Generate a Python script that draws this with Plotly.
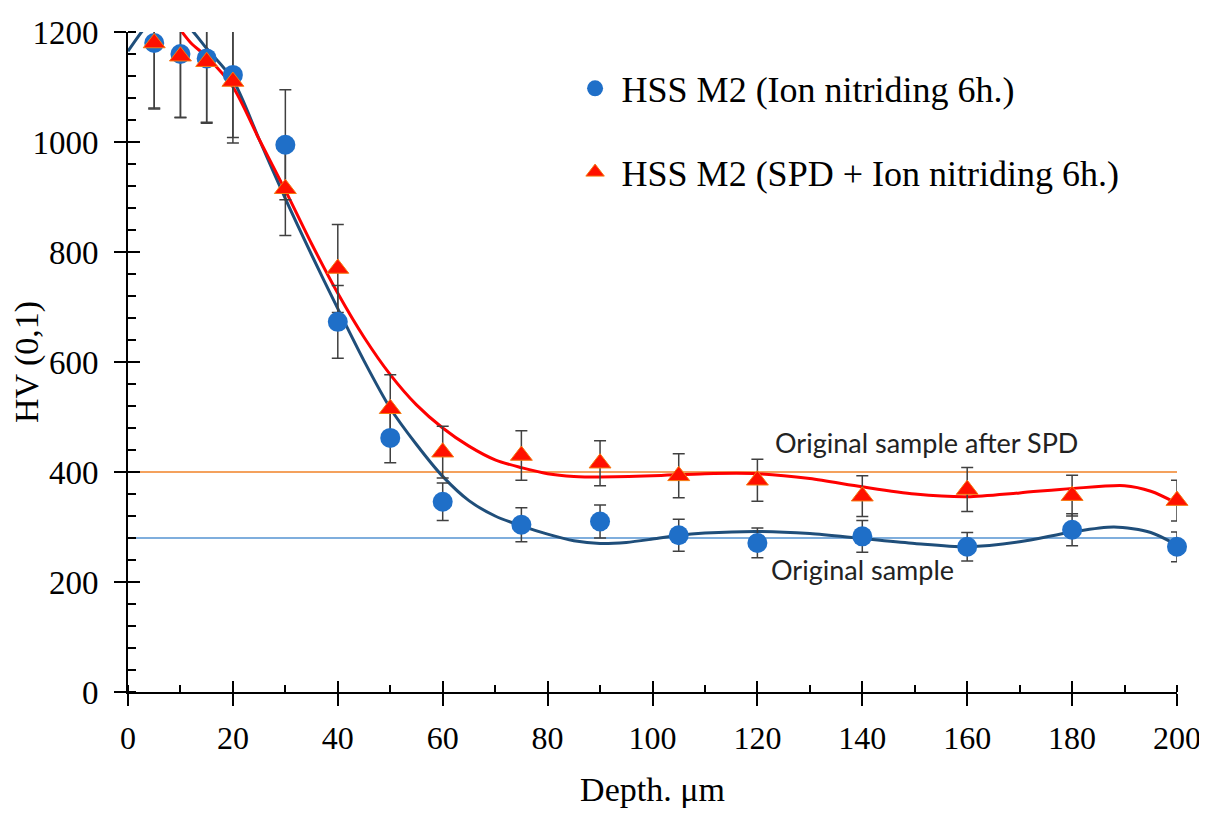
import plotly.graph_objects as go

# ---- data ----
depth = [5, 10, 15, 20, 30, 40, 50, 60, 75, 90, 105, 120, 140, 160, 180, 200]
hv_ion = [1180, 1160, 1152, 1122, 995, 673, 462, 346, 304, 310, 285, 271, 283, 264, 295, 264]
err_ion = [120, 115, 116, 114, 100, 66, 45, 34, 31, 30, 29, 27, 29, 26, 29, 27]
hv_spd = [1180, 1156, 1146, 1110, 915, 770, 515, 436, 430, 416, 393, 385, 356, 368, 357, 348]
err_spd = [118, 112, 112, 112, 85, 80, 62, 47, 45, 41, 40, 38, 37, 40, 37, 37]

fit_ion_x = [0, 3, 6, 9, 12, 15, 20, 25, 30, 35, 40, 45, 50, 55, 60, 65, 70, 75, 80, 85, 90, 95,
             100, 105, 110, 120, 130, 140, 150, 160, 170, 180, 188, 195, 200]
fit_ion_y = [1165, 1205, 1235, 1230, 1205, 1170, 1113, 1005, 897, 795, 697, 602, 516, 450, 392, 348,
             320, 302, 287, 275, 270, 272, 278, 285, 289, 292, 288, 279, 270, 264, 273, 291, 300, 290, 267]
fit_spd_x = [0, 3, 6, 9, 12, 15, 20, 25, 30, 35, 40, 45, 50, 55, 60, 65, 70, 75, 80, 85, 90,
             100, 110, 120, 130, 140, 150, 160, 170, 180, 190, 195, 200]
fit_spd_y = [1200, 1235, 1240, 1215, 1180, 1155, 1100, 1005, 912, 815, 725, 645, 577, 522, 480, 447,
             422, 408, 397, 392, 391, 393, 397, 397, 388, 373, 360, 355, 362, 370, 375, 365, 343]

ref_levels = [400, 280]
ref_labels = ["Original sample after SPD", "Original sample"]
x_range = [0, 200]
y_range = [0, 1200]
x_major = [0, 20, 40, 60, 80, 100, 120, 140, 160, 180, 200]
y_major = [0, 200, 400, 600, 800, 1000, 1200]
x_major_text = [str(v) for v in x_major]
y_major_text = [str(v) for v in y_major]

serif = "Liberation Serif"
fig = go.Figure()

# reference horizontal lines
fig.add_trace(go.Scatter(x=x_range, y=[ref_levels[0]] * 2, mode="lines",
                         line=dict(color="#F4A15D", width=2), showlegend=False, hoverinfo="skip"))
fig.add_trace(go.Scatter(x=x_range, y=[ref_levels[1]] * 2, mode="lines",
                         line=dict(color="#7FAEDD", width=2), showlegend=False, hoverinfo="skip"))

# fitted curves
fig.add_trace(go.Scatter(x=fit_ion_x, y=fit_ion_y, mode="lines", line_shape="spline",
                         line=dict(color="#1F4E7A", width=3, smoothing=0.8),
                         showlegend=False, hoverinfo="skip"))
fig.add_trace(go.Scatter(x=fit_spd_x, y=fit_spd_y, mode="lines", line_shape="spline",
                         line=dict(color="#FF0000", width=3, smoothing=0.8),
                         showlegend=False, hoverinfo="skip"))

# error bars (clipped to the plot area)
for yy, ee in [(hv_ion, err_ion), (hv_spd, err_spd)]:
    fig.add_trace(go.Scatter(x=depth, y=yy, mode="markers", marker=dict(opacity=0, size=2),
                             error_y=dict(type="data", array=ee, visible=True, color="#404040",
                                          thickness=1.5, width=6),
                             showlegend=False, hoverinfo="skip"))

# markers
fig.add_trace(go.Scatter(x=depth, y=hv_ion, mode="markers", name="HSS M2 (Ion nitriding 6h.)",
                         marker=dict(symbol="circle", size=20, color="#1F6FC8",
                                     line=dict(color="#1F6FC8", width=0)),
                         cliponaxis=False, legendgroup="a"))
fig.add_trace(go.Scatter(x=depth, y=hv_spd, mode="markers", name="HSS M2 (SPD + Ion nitriding 6h.)",
                         marker=dict(symbol="triangle-up", size=19, color="#FF1000",
                                     line=dict(color="#F57A10", width=1)),
                         cliponaxis=False, legendgroup="b"))

# dummy trace for the overlay axes (inside halves of the major ticks)
fig.add_trace(go.Scatter(x=[None], y=[None], xaxis="x2", yaxis="y2", showlegend=False,
                         hoverinfo="skip"))

# labels for the reference lines
fig.add_annotation(x=123, y=453, text=ref_labels[0], showarrow=False, xanchor="left",
                   yanchor="middle", font=dict(family="Lato", size=27, color="#222"))
fig.add_annotation(x=122.3, y=222, text=ref_labels[1], showarrow=False, xanchor="left",
                   yanchor="middle", font=dict(family="Lato", size=27, color="#222"))

fig.update_layout(
    template="none",
    width=1199, height=804,
    margin=dict(l=120, r=30, t=24, b=120, pad=0),
    paper_bgcolor="white", plot_bgcolor="white",
    font=dict(family=serif, size=32, color="black"),
    showlegend=True,
    legend=dict(x=0.42, y=0.96, xanchor="left", yanchor="top", bgcolor="rgba(0,0,0,0)",
                borderwidth=0, itemwidth=43,
                font=dict(family=serif, size=36, color="black"),
                traceorder="grouped", tracegroupgap=34),
    xaxis=dict(range=x_range, tickmode="array", tickvals=x_major, ticktext=x_major_text,
               ticks="outside", ticklen=12, tickwidth=2,
               tickcolor="black", showline=True, linecolor="black", linewidth=2,
               showgrid=False, zeroline=False, ticklabelstandoff=5,
               tickfont=dict(family=serif, size=32, color="black"),
               automargin=False,
               minor=dict(dtick=10, ticks="inside", ticklen=7, tickwidth=2, tickcolor="black",
                          showgrid=False),
               title=dict(text="Depth. μm", font=dict(family=serif, size=34, color="black"),
                          standoff=22)),
    yaxis=dict(range=y_range, tickmode="array", tickvals=y_major, ticktext=y_major_text,
               ticks="outside", ticklen=12, tickwidth=2,
               tickcolor="black", showline=True, linecolor="black", linewidth=2,
               showgrid=False, zeroline=False, ticklabelstandoff=9,
               tickfont=dict(family=serif, size=33, color="black"),
               automargin=False,
               minor=dict(dtick=40, ticks="inside", ticklen=8, tickwidth=2, tickcolor="black",
                          showgrid=False),
               title=dict(text="HV (0,1)", font=dict(family=serif, size=34, color="black"),
                          standoff=8)),
    xaxis2=dict(overlaying="x", range=x_range, tickvals=x_major, ticks="inside", ticklen=11,
                tickwidth=2, tickcolor="black", showticklabels=False, showline=False,
                showgrid=False, zeroline=False, side="bottom", automargin=False),
    yaxis2=dict(overlaying="y", range=y_range, tickvals=y_major, ticks="inside", ticklen=12,
                tickwidth=2, tickcolor="black", showticklabels=False, showline=False,
                showgrid=False, zeroline=False, side="left", automargin=False),
)

fig.write_html("out.html")
